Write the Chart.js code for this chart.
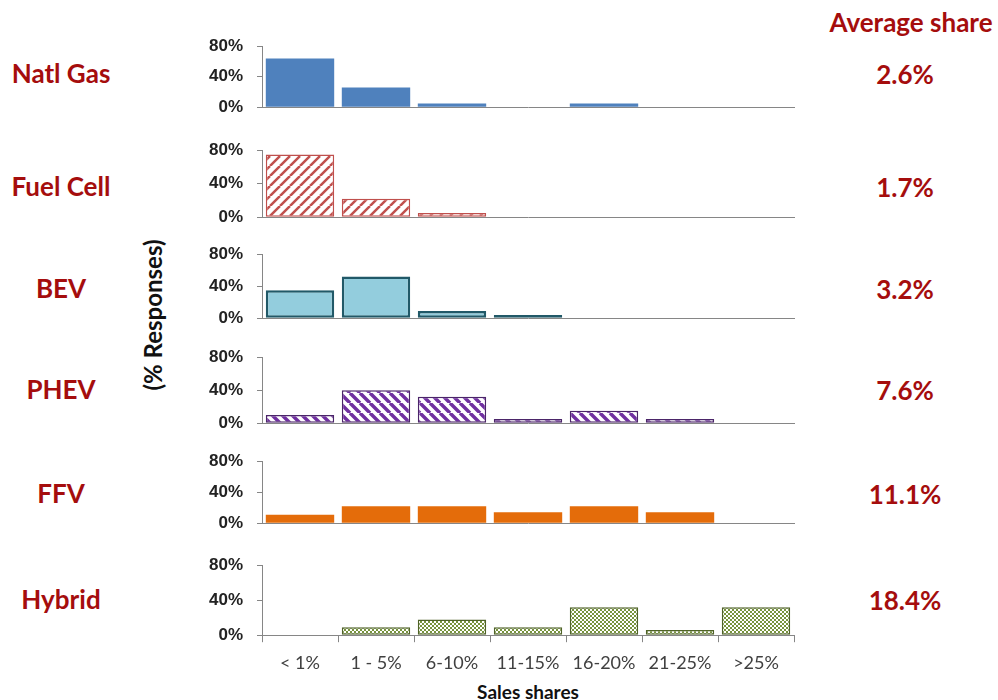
<!DOCTYPE html>
<html>
<head>
<meta charset="utf-8">
<script src="https://cdn.jsdelivr.net/npm/chart.js@4.4.1/dist/chart.umd.min.js"></script>
<style>
  body { margin: 0; background: #fff; width: 998px; height: 700px; position: relative; overflow: hidden; font-family: Lato, sans-serif; }
  canvas { position: absolute; left: 190px; }
  .lbl { position: absolute; transform: translate(-50%, -50%); white-space: nowrap; color: #a50d0d; font-weight: bold; font-size: 26px; }
  #ytitle { position: absolute; left: 152px; top: 315px; transform: translate(-50%, -50%) rotate(-90deg); white-space: nowrap; font-weight: bold; font-size: 24px; color: #111; }
  #xtitle { position: absolute; left: 528px; top: 691px; transform: translate(-50%, -50%); white-space: nowrap; font-weight: bold; font-size: 19px; color: #111; }
</style>
</head>
<body>
<div id="ytitle">(% Responses)</div>
<div id="xtitle">Sales shares</div>
<script>
// donnees
const categories = ['< 1%', '1 - 5%', '6-10%', '11-15%', '16-20%', '21-25%', '>25%'];
const fuels = ['Natl Gas', 'Fuel Cell', 'BEV', 'PHEV', 'FFV', 'Hybrid'];
const avgShares = ['2.6%', '1.7%', '3.2%', '7.6%', '11.1%', '18.4%'];
const yTicks = [0, 40, 80];

const natlGas  = [64, 26, 5, 0, 5, 0, 0];
const fuelCell = [75, 22, 5, 0, 0, 0, 0];
const bev      = [35, 52, 9, 4, 0, 0, 0];
const phev     = [10, 40, 32, 5, 15, 5, 0];
const ffv      = [11, 22, 22, 14, 22, 14, 0];
const hybrid   = [0, 9, 18, 9, 32, 6, 32];

// position des panneaux (haut = 80%, bas = 0%)
const panelTop  = [46, 150, 254, 357, 461, 565];
const panelZero = [107, 217, 318, 423, 523, 635];
const labelY    = [73, 186, 288, 389, 493, 599];

// motifs de remplissage
function hatch(color, size, lw, slash) {
  const c = document.createElement('canvas');
  c.width = size; c.height = size;
  const g = c.getContext('2d');
  g.fillStyle = '#fff';
  g.fillRect(0, 0, size, size);
  g.strokeStyle = color;
  g.lineWidth = lw;
  g.beginPath();
  for (const k of [-size, 0, size]) {
    if (slash) { g.moveTo(k, size); g.lineTo(k + size, 0); }
    else { g.moveTo(k, 0); g.lineTo(k + size, size); }
  }
  g.stroke();
  return g.createPattern(c, 'repeat');
}

function checker(color) {
  const c = document.createElement('canvas');
  c.width = 4; c.height = 4;
  const g = c.getContext('2d');
  g.fillStyle = color;
  g.fillRect(0, 0, 4, 4);
  g.fillStyle = '#fff';
  g.fillRect(0, 0, 2, 2);
  g.fillRect(2, 2, 2, 2);
  return g.createPattern(c, 'repeat');
}

const series = [natlGas, fuelCell, bev, phev, ffv, hybrid];
const styles = [
  { backgroundColor: '#4f81bd', borderWidth: 0 },
  { backgroundColor: hatch('#c0504d', 10, 2.5, true), borderColor: '#c0504d', borderWidth: 1.5 },
  { backgroundColor: '#93cddd', borderColor: '#215968', borderWidth: 2.5 },
  { backgroundColor: hatch('#7030a0', 10, 3.5, false), borderColor: '#4b2569', borderWidth: 1.5 },
  { backgroundColor: '#e46c0a', borderWidth: 0 },
  { backgroundColor: checker('#77933c'), borderColor: '#4f6228', borderWidth: 1.5 }
];

function makePanel(i) {
  const last = i === fuels.length - 1;
  const xh = last ? 42 : 2;
  const h = panelZero[i] - panelTop[i];
  const cv = document.createElement('canvas');
  cv.width = 610;
  cv.height = h + 60;
  document.body.appendChild(cv);

  const chart = new Chart(cv, {
    type: 'bar',
    data: {
      labels: categories,
      datasets: [Object.assign({
        data: series[i],
        borderSkipped: false,
        categoryPercentage: 1,
        barPercentage: 0.9
      }, styles[i])]
    },
    options: {
      responsive: false,
      maintainAspectRatio: false,
      animation: false,
      devicePixelRatio: 1,
      layout: { padding: { top: 0, right: 6, bottom: 0, left: 0 } },
      plugins: { legend: { display: false }, tooltip: { enabled: false } },
      scales: {
        x: {
          grid: { display: last, drawTicks: last, drawOnChartArea: false, tickLength: 7, color: '#868686' },
          border: { color: '#868686' },
          ticks: { display: last, padding: 10, color: '#404040', font: { family: 'Lato', size: 18 } },
          afterFit: s => { s.height = xh; }
        },
        y: {
          min: 0,
          max: 80,
          afterBuildTicks: s => { s.ticks = yTicks.map(v => ({ value: v })); },
          ticks: { padding: 14, color: '#222', callback: v => v + '%', font: { family: 'Liberation Sans', size: 17, weight: 'bold' } },
          grid: { drawOnChartArea: false, tickLength: 5, color: '#868686' },
          border: { color: '#868686' },
          afterFit: s => { s.width = 72; }
        }
      }
    }
  });

  // ajuste la hauteur du canvas pour que la zone de tracé tombe pile
  const area = chart.chartArea;
  const extra = cv.height - (area.bottom - area.top);
  chart.resize(610, h + extra);
  cv.style.top = (panelTop[i] - chart.chartArea.top) + 'px';

  const a = document.createElement('div');
  a.className = 'lbl';
  a.style.left = '61px';
  a.style.top = labelY[i] + 'px';
  a.textContent = fuels[i];
  document.body.appendChild(a);

  const b = document.createElement('div');
  b.className = 'lbl';
  b.style.left = '905px';
  b.style.top = (labelY[i] + 1) + 'px';
  b.textContent = avgShares[i];
  document.body.appendChild(b);
}

for (let i = 0; i < fuels.length; i++) makePanel(i);

const head = document.createElement('div');
head.className = 'lbl';
head.style.left = '911px';
head.style.top = '22px';
head.textContent = 'Average share';
document.body.appendChild(head);
</script>
</body>
</html>
